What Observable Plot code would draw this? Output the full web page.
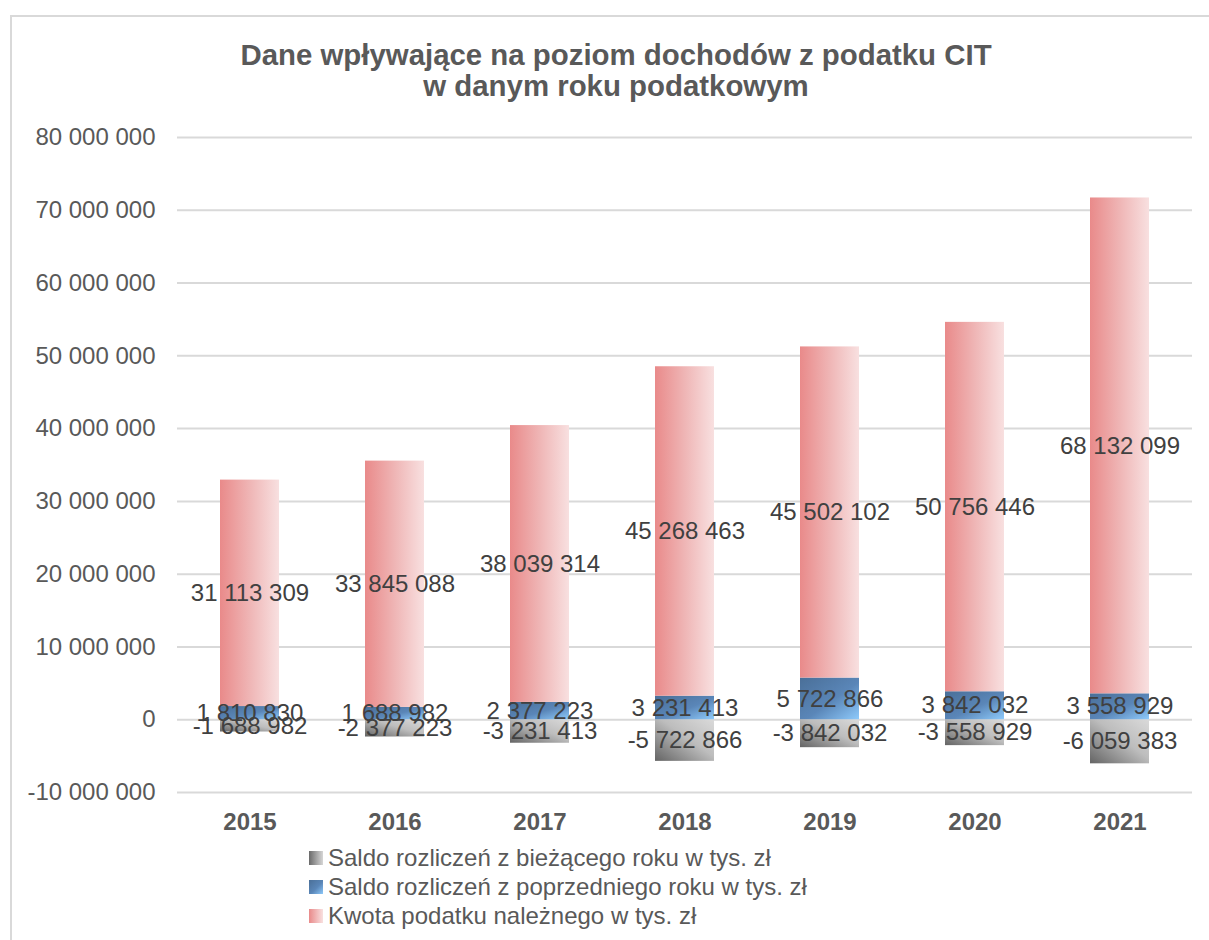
<!DOCTYPE html>
<html>
<head>
<meta charset="utf-8">
<script src="https://cdn.jsdelivr.net/npm/d3@7"></script>
<script src="https://cdn.jsdelivr.net/npm/@observablehq/plot@0.6"></script>
<style>
  html, body { margin: 0; padding: 0; background: #fff; }
  body { width: 1209px; height: 940px; position: relative; overflow: hidden; font-family: "Liberation Sans", Arial, sans-serif; }
  #frame { position: absolute; left: 10px; top: 15px; width: 1260px; height: 1000px; border: 2px solid #d9d9d9; box-sizing: border-box; }
  #title { position: absolute; left: 616px; top: 39px; transform: translateX(-50%); white-space: nowrap; text-align: center;
           font-size: 29.4px; line-height: 31px; font-weight: bold; color: #595959; }
  #chart { position: absolute; left: 0; top: 110px; }
  #legend { position: absolute; left: 309px; top: 843px; color: #595959; font-size: 24px; }
  .row { display: flex; align-items: center; height: 29px; }
  .sw { width: 14px; height: 14px; margin-right: 5px; }
</style>
</head>
<body>
<div id="frame"></div>
<div id="title">Dane wpływające na poziom dochodów z podatku CIT<br>w danym roku podatkowym</div>
<div id="chart"></div>
<div id="legend"></div>
<script>
const years = ["2015", "2016", "2017", "2018", "2019", "2020", "2021"];
const seriesNames = [
  "Saldo rozliczeń z bieżącego roku w tys. zł",
  "Saldo rozliczeń z poprzedniego roku w tys. zł",
  "Kwota podatku należnego w tys. zł"
];
const biezacy = [-1688982, -2377223, -3231413, -5722866, -3842032, -3558929, -6059383];
const poprzedni = [1810830, 1688982, 2377223, 3231413, 5722866, 3842032, 3558929];
const kwota = [31113309, 33845088, 38039314, 45268463, 45502102, 50756446, 68132099];
const yTicks = [-10000000, 0, 10000000, 20000000, 30000000, 40000000, 50000000, 60000000, 70000000, 80000000];

const gradIds = ["gGray", "gBlue", "gPink"];
const gradFills = gradIds.map(id => `url(#${id})`);

const data = [];
years.forEach((y, i) => {
  data.push({year: y, series: seriesNames[0], value: biezacy[i]});
  data.push({year: y, series: seriesNames[1], value: poprzedni[i]});
  data.push({year: y, series: seriesNames[2], value: kwota[i]});
});

const locale = d3.formatLocale({decimal: ",", thousands: " ", grouping: [3], currency: ["", ""], minus: "-"});
const fmt = locale.format(",d");

const svg = Plot.plot({
  width: 1209,
  height: 740,
  marginTop: 27,
  marginBottom: 58,
  marginLeft: 177,
  marginRight: 17,
  style: {fontFamily: "'Liberation Sans', Arial, sans-serif", fontSize: "24px", background: "transparent"},
  x: {domain: years, paddingInner: 0.594, paddingOuter: 0.297, label: null},
  y: {domain: [-10000000, 80000000], label: null},
  color: {domain: seriesNames, range: gradFills},
  marks: [
    Plot.gridY(yTicks, {stroke: "#d9d9d9", strokeOpacity: 1, strokeWidth: 2}),
    Plot.barY(data, Plot.stackY({x: "year", y: "value", z: "series", fill: "series"})),
    Plot.text(data, Plot.stackY({x: "year", y: "value", z: "series", text: d => fmt(d.value),
      fill: "#404040", fontSize: 24})),
    Plot.axisY(yTicks, {tickSize: 0, tickPadding: 22, tickFormat: fmt, fontSize: 24, color: "#595959", label: null}),
    Plot.axisX({tickSize: 0, tickPadding: 20, fontSize: 24, fontWeight: "bold", color: "#595959", label: null})
  ]
});

const defs = d3.select(svg).insert("defs", ":first-child");
function grad(id, x1, y1, x2, y2, stops) {
  const g = defs.append("linearGradient").attr("id", id)
    .attr("x1", x1).attr("y1", y1).attr("x2", x2).attr("y2", y2);
  stops.forEach(([o, c]) => g.append("stop").attr("offset", o).attr("stop-color", c));
}
grad("gPink", 0, 0, 1, 0, [[0, "#e98a8a"], [0.5, "#efb5b5"], [1, "#f8e0e0"]]);
grad("gBlue", 0, 0, 1, 1, [[0, "#4a6f98"], [0.55, "#5a86b8"], [1, "#8ecafb"]]);
grad("gGray", 0, 1, 1, 0, [[0, "#646464"], [0.55, "#bdbdbd"], [1, "#dadada"]]);

document.getElementById("chart").appendChild(svg);

// legend (HTML), swatches with the same gradients
const legendSwatch = [
  "linear-gradient(to right, #6a6a6a, #d6d6d6)",
  "linear-gradient(135deg, #4a6f98, #5a86b8 55%, #8ecafb)",
  "linear-gradient(to right, #e98a8a, #f8e0e0)"
];
const leg = document.getElementById("legend");
seriesNames.forEach((name, i) => {
  const row = document.createElement("div");
  row.className = "row";
  const sw = document.createElement("div");
  sw.className = "sw";
  sw.style.background = legendSwatch[i];
  const t = document.createElement("span");
  t.textContent = name;
  row.appendChild(sw);
  row.appendChild(t);
  leg.appendChild(row);
});
</script>
</body>
</html>
